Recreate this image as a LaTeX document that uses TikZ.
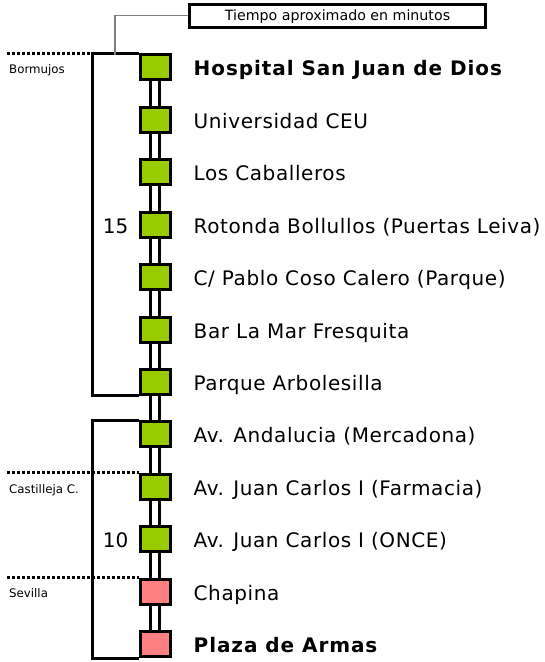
\documentclass[tikz,border=0pt]{standalone}
\usepackage{fontspec}
\setmainfont{DejaVu Sans}
\newfontfamily\stopfont[LetterSpace=3, BoldFeatures={LetterSpace=4.6}]{DejaVu Sans}
\usepackage{tikz}
\usetikzlibrary{positioning, backgrounds}
\definecolor{linegreen}{RGB}{153,204,0}
\definecolor{linepink}{RGB}{255,128,128}

\begin{document}
\begin{tikzpicture}[x=1pt, y=-1pt,
  stop/.style={draw=black, line width=3pt, fill=linegreen, rectangle,
               minimum width=30pt, minimum height=25pt, inner sep=0pt},
  endstop/.style={stop, fill=linepink},
  stoplabel/.style={inner sep=0pt, text height=17pt, text depth=0pt,
                    font=\fontsize{20}{24}\stopfont},
  minutes/.style={inner sep=0pt, text height=17pt, text depth=0pt,
                  font=\fontsize{20}{24}\selectfont},
  zonelabel/.style={anchor=base west, inner sep=0pt, font=\fontsize{11.8}{14}\selectfont},
  note/.style={draw=black, line width=3pt, minimum width=296pt, minimum height=23pt,
               inner sep=0pt, text height=10pt, text depth=0pt,
               font=\fontsize{14.2}{16}\selectfont},
  rail/.style={line width=3pt, double=white, double distance=6pt},
  bracket/.style={line width=3pt},
  border/.style={line width=3pt, dash pattern=on 3pt off 2pt},
  callout/.style={draw=gray, line width=1.8pt}
]
  \useasboundingbox (0,0) rectangle (545,662);

  %% Stops along the line
  \node[stop]    (s0)  at (155,67.3)  {};
  \node[stop]    (s1)  at (155,119.7) {};
  \node[stop]    (s2)  at (155,172.2) {};
  \node[stop]    (s3)  at (155,224.6) {};
  \node[stop]    (s4)  at (155,277.0) {};
  \node[stop]    (s5)  at (155,329.5) {};
  \node[stop]    (s6)  at (155,381.9) {};
  \node[stop]    (s7)  at (155,434.3) {};
  \node[stop]    (s8)  at (155,486.7) {};
  \node[stop]    (s9)  at (155,539.2) {};
  \node[endstop] (s10) at (155,591.6) {};
  \node[endstop] (s11) at (155,644.0) {};

  %% Stop names
  \node[stoplabel, right=22pt of s0]  (n0)  {\bfseries Hospital San Juan de Dios};
  \node[stoplabel, right=22pt of s1]  (n1)  {Universidad CEU};
  \node[stoplabel, right=22pt of s2]  (n2)  {Los Caballeros};
  \node[stoplabel, right=22pt of s3]  (n3)  {Rotonda Bollullos (Puertas Leiva)};
  \node[stoplabel, right=22pt of s4]  (n4)  {C/ Pablo Coso Calero (Parque)};
  \node[stoplabel, right=22pt of s5]  (n5)  {Bar La Mar Fresquita};
  \node[stoplabel, right=22pt of s6]  (n6)  {Parque Arbolesilla};
  \node[stoplabel, right=22pt of s7]  (n7)  {Av. Andalucia (Mercadona)};
  \node[stoplabel, right=22pt of s8]  (n8)  {Av. Juan Carlos I (Farmacia)};
  \node[stoplabel, right=22pt of s9]  (n9)  {Av. Juan Carlos I (ONCE)};
  \node[stoplabel, right=22pt of s10] (n10) {Chapina};
  \node[stoplabel, right=22pt of s11] (n11) {\bfseries Plaza de Armas};

  %% Track between the stops
  \begin{scope}[on background layer]
    \draw[rail] (s0) -- (s11);
  \end{scope}

  %% Zone borders
  \coordinate (edge) at (7,0);
  \draw[border] (s0.north west -| edge) -- (s0.north west);
  \draw[border] (s8.north west -| edge) -- (s8.north west);
  \draw[border] (s10.north west -| edge) -- (s10.north west);
  \node[zonelabel] (zb) at (9,73.3)  {Bormujos};
  \node[zonelabel] (zc) at (9,493.0) {Castilleja C.};
  \node[zonelabel] (zs) at (9,597.5) {Sevilla};

  %% Time brackets
  \draw[bracket] (s0.north west) -- ++(-46,0) |- (s6.south west);
  \draw[bracket] (s7.north west) -- ++(-46,0) |- (s11.south west);
  \node[minutes, left=10pt of s3] (m15) {15};
  \node[minutes, left=10pt of s9] (m10) {10};

  %% Legend
  \node[note] (note) at (337.5,15.5) {Tiempo aproximado en minutos};
  \coordinate (tick) at (115,54.8);
  \draw[callout] (note.west) -| (tick);
\end{tikzpicture}
\end{document}
